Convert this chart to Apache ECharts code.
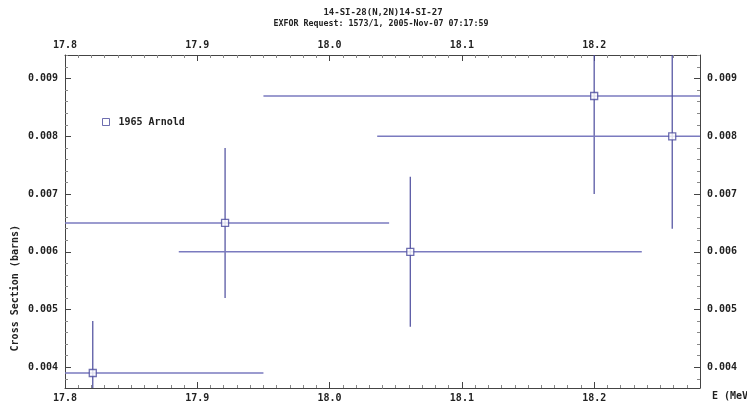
<!DOCTYPE html>
<html>
<head>
<meta charset="utf-8">
<script src="https://cdn.jsdelivr.net/npm/echarts@6/dist/echarts.min.js"></script>
<style>
  html, body { margin: 0; padding: 0; background: #fff; }
  #chart { width: 747px; height: 403px; }
</style>
</head>
<body>
<div id="chart"></div>
<script>
// 14-SI-28(N,2N)14-SI-27 cross section, 1965 Arnold
const energy    = [17.821, 17.921, 18.061, 18.200, 18.259];   // MeV
const energyErr = [0.129, 0.124, 0.175, 0.250, 0.223];         // MeV
const xsec      = [0.0039, 0.0065, 0.0060, 0.0087, 0.0080];    // barns
const xsecErr   = [0.0009, 0.0013, 0.0013, 0.0017, 0.0016];    // barns
const seriesName = '1965 Arnold';
const titleLines = ['14-SI-28(N,2N)14-SI-27', 'EXFOR Request: 1573/1, 2005-Nov-07 07:17:59'];
const xRange = [17.8, 18.28];
const yRange = [0.00364, 0.00941];

const FONT = '"DejaVu Sans Mono", "Liberation Mono", monospace';
const AXIS_COLOR = '#444';
const H_COLOR = '#7a7abf';
const V_COLOR = '#4a4a9c';

const points = energy.map((e, i) => [e, xsec[i], energyErr[i], xsecErr[i]]);

const labelStyle = { fontFamily: FONT, fontSize: 10, fontWeight: 'bold', color: '#222' };

function xAxisCfg(position) {
  return {
    type: 'value', position: position, min: xRange[0], max: xRange[1], interval: 0.1,
    axisLine: { show: true, onZero: false, lineStyle: { color: AXIS_COLOR, width: 1 } },
    axisTick: { show: true, inside: true, length: 6, lineStyle: { color: AXIS_COLOR } },
    minorTick: { show: true, splitNumber: 10, length: 3, lineStyle: { color: '#888' } },
    splitLine: { show: false },
    axisLabel: Object.assign({ margin: 5, showMaxLabel: false, formatter: v => v.toFixed(1) }, labelStyle)
  };
}

function yAxisCfg(position) {
  return {
    type: 'value', position: position, min: yRange[0], max: yRange[1],
    minInterval: 0.001, maxInterval: 0.001,
    axisLine: { show: true, onZero: false, lineStyle: { color: AXIS_COLOR, width: 1 } },
    axisTick: { show: true, inside: true, length: 6, lineStyle: { color: AXIS_COLOR } },
    minorTick: { show: true, splitNumber: 5, length: 3, lineStyle: { color: '#888' } },
    splitLine: { show: false },
    axisLabel: Object.assign({ margin: 7, showMinLabel: false, showMaxLabel: false,
      formatter: v => v.toFixed(3) }, labelStyle)
  };
}

const chart = echarts.init(document.getElementById('chart'), null, { renderer: 'canvas' });

chart.setOption({
  animation: false,
  backgroundColor: '#fff',
  title: [
    { text: titleLines[0], left: 378, top: 3, textAlign: 'center',
      textStyle: { fontFamily: FONT, fontSize: 9, fontWeight: 'bold', color: '#222' } },
    { text: titleLines[1], left: 376, top: 15, textAlign: 'center',
      textStyle: { fontFamily: FONT, fontSize: 8.3, fontWeight: 'bold', color: '#222' } }
  ],
  grid: { left: 65, right: 47, top: 55, bottom: 12, containLabel: false },
  xAxis: [xAxisCfg('bottom'), xAxisCfg('top')],
  yAxis: [yAxisCfg('left'), yAxisCfg('right')],
  legend: {
    left: 97, top: 112, itemWidth: 7, itemHeight: 7, itemGap: 6,
    data: [{ name: seriesName, icon: 'rect',
      itemStyle: { color: '#fff', borderColor: V_COLOR, borderWidth: 1 } }],
    textStyle: { fontFamily: FONT, fontSize: 10, fontWeight: 'bold', color: '#222', padding: [0, 0, 0, 4] }
  },
  graphic: [
    { type: 'text', left: 10, top: 225, rotation: Math.PI / 2, originX: 0, originY: 0,
      style: { text: 'Cross Section (barns)', font: 'bold 10px ' + FONT, fill: '#222',
        textAlign: 'center', textVerticalAlign: 'middle' } },
    { type: 'text', left: 712, top: 391,
      style: { text: 'E (MeV', font: 'bold 10px ' + FONT, fill: '#222' } }
  ],
  series: [
    {
      type: 'custom',
      name: seriesName + ' errors',
      clip: true,
      silent: true,
      data: points,
      z: 2,
      renderItem: function (params, api) {
        const x = api.value(0), y = api.value(1), dx = api.value(2), dy = api.value(3);
        const l = api.coord([x - dx, y]);
        const r = api.coord([x + dx, y]);
        const t = api.coord([x, y + dy]);
        const b = api.coord([x, y - dy]);
        return {
          type: 'group',
          children: [
            { type: 'line', shape: { x1: l[0], y1: l[1], x2: r[0], y2: r[1] },
              style: { stroke: H_COLOR, lineWidth: 1.5 } },
            { type: 'line', shape: { x1: t[0], y1: t[1], x2: b[0], y2: b[1] },
              style: { stroke: V_COLOR, lineWidth: 1.2 } }
          ]
        };
      }
    },
    {
      type: 'scatter',
      name: seriesName,
      data: points.map(p => [p[0], p[1]]),
      symbol: 'rect',
      symbolSize: 7,
      z: 3,
      itemStyle: { color: '#fff', borderColor: V_COLOR, borderWidth: 1.3 }
    }
  ]
});
</script>
</body>
</html>
